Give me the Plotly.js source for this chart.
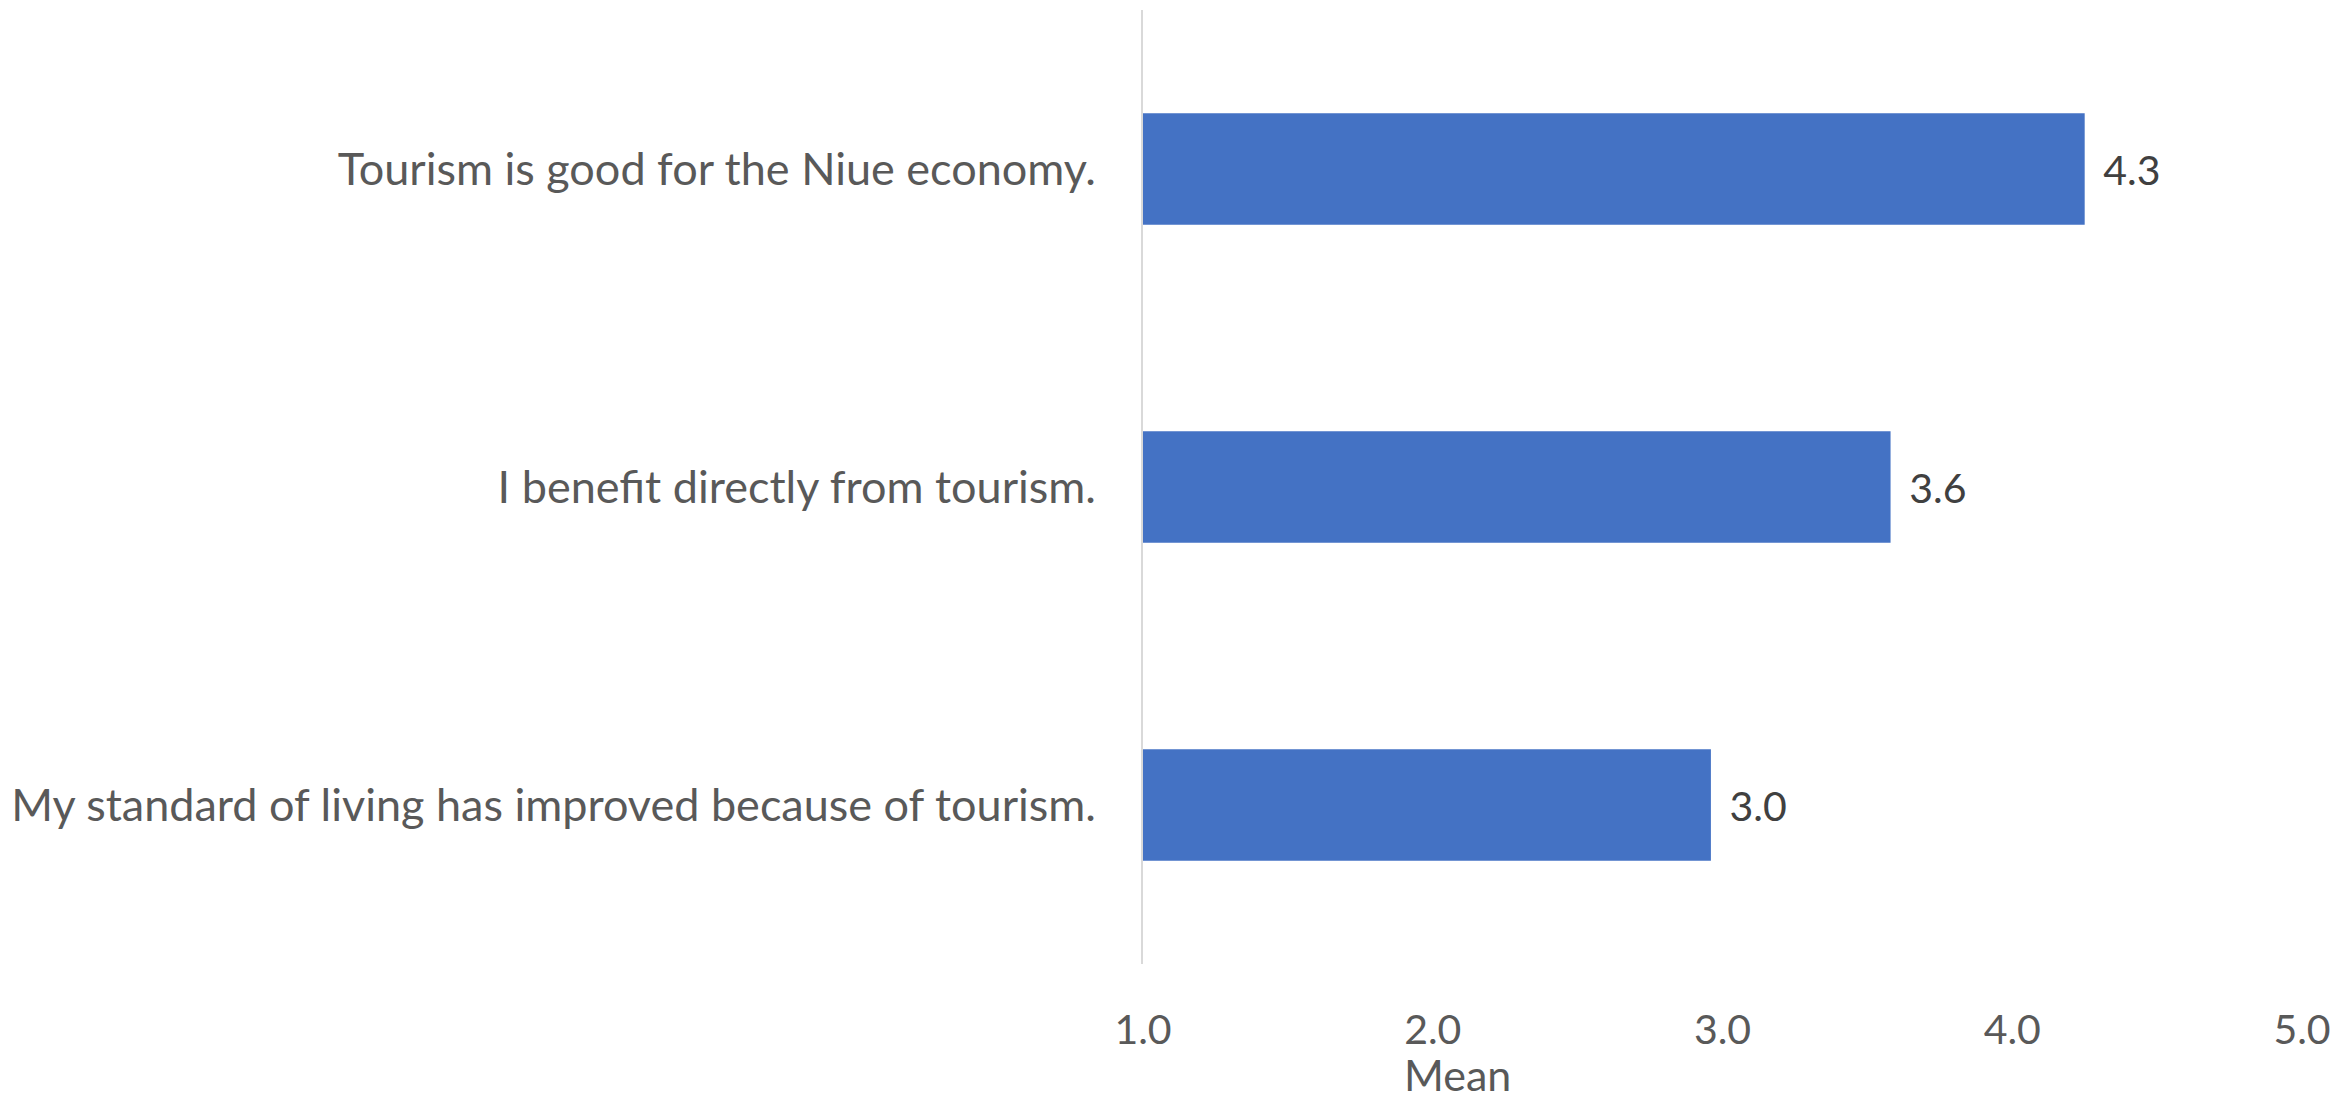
<!DOCTYPE html>
<html>
<head>
<meta charset="utf-8">
<script src="https://cdn.plot.ly/plotly-3.0.1.min.js"></script>
<style>html,body{margin:0;padding:0;background:#fff;}#chart{width:2338px;height:1104px;}</style>
</head>
<body>
<div id="chart"></div>
<script>
const categories = [
  "My standard of living has improved because of tourism.",
  "I benefit directly from tourism.",
  "Tourism is good for the Niue economy."
];
const means = [2.96, 3.58, 4.25];
const tickVals = [1, 2, 3, 4, 5];
const tickText = ["1.0", "2.0", "3.0", "4.0", "5.0"];
const axisTitle = "Mean";

const FONT = "Lato, 'Open Sans', sans-serif";

const trace = {
  type: "bar",
  orientation: "h",
  y: categories,
  x: means.map(v => v - 1),
  base: 1,
  marker: {color: "#4472C4"},
  text: means.map(v => "\u00a0\u2009" + v.toFixed(1)),
  textposition: "outside",
  cliponaxis: false,
  textfont: {family: FONT, size: 41, color: "#404040"},
  hoverinfo: "skip"
};

const layout = {
  width: 2338,
  height: 1104,
  margin: {l: 1143, r: 36, t: 10, b: 140},
  paper_bgcolor: "#ffffff",
  plot_bgcolor: "#ffffff",
  showlegend: false,
  bargap: 0.65,
  font: {family: FONT, color: "#595959", size: 40},
  xaxis: {
    range: [1, 5],
    tickvals: tickVals,
    ticktext: tickText,
    showgrid: false,
    zeroline: false,
    showline: false,
    ticks: "outside",
    ticklen: 30,
    tickcolor: "rgba(0,0,0,0)",
    tickfont: {family: FONT, size: 41, color: "#595959"}
  },
  yaxis: {
    type: "category",
    showgrid: false,
    zeroline: false,
    showline: true,
    linecolor: "#d9d9d9",
    linewidth: 2,
    ticks: "outside",
    ticklen: 36,
    tickcolor: "rgba(0,0,0,0)",
    tickfont: {family: FONT, size: 45, color: "#595959"}
  },
  annotations: [{
    text: axisTitle,
    xref: "paper", yref: "paper",
    x: (1457 - 1143) / (2338 - 1143 - 36),
    y: -(1102 - 964) / 954,
    xanchor: "center", yanchor: "bottom",
    showarrow: false,
    font: {family: FONT, size: 43, color: "#595959"}
  }]
};

Plotly.newPlot("chart", [trace], layout, {displayModeBar: false, staticPlot: true});
</script>
</body>
</html>
